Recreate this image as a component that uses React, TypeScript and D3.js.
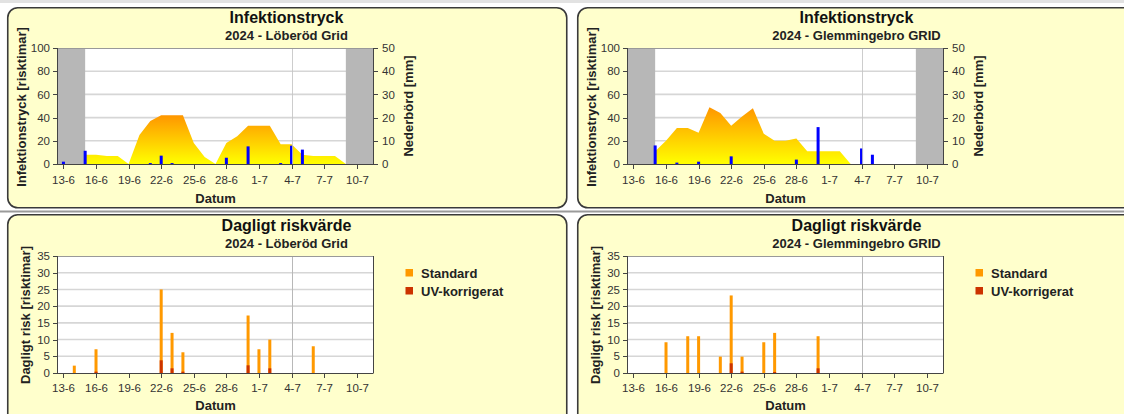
import React from "react";
import * as d3 from "d3";

const parse = d3.timeParse("%Y-%m-%d");

// X axis ticks
const tickDates = ["2024-06-13", "2024-06-16", "2024-06-19", "2024-06-22", "2024-06-25", "2024-06-28", "2024-07-01", "2024-07-04", "2024-07-07", "2024-07-10"];
const tickLabels = ["13-6", "16-6", "19-6", "22-6", "25-6", "28-6", "1-7", "4-7", "7-7", "10-7"];
const todayDate = "2024-07-04";
const seasonStart = "2024-06-15";
const seasonEnd = "2024-07-09";

// Infektionstryck – Löberöd
const lobAreaDates = ["2024-06-15", "2024-06-16", "2024-06-17", "2024-06-18", "2024-06-19", "2024-06-20", "2024-06-21", "2024-06-22", "2024-06-23", "2024-06-24", "2024-06-25", "2024-06-26", "2024-06-27", "2024-06-28", "2024-06-29", "2024-06-30", "2024-07-01", "2024-07-02", "2024-07-03", "2024-07-04", "2024-07-05", "2024-07-06", "2024-07-07", "2024-07-08", "2024-07-09"];
const lobAreaValues = [8, 8, 7, 7, 0, 25, 37, 42, 42, 42, 18, 6, 0, 18, 24, 33, 33, 33, 17, 17, 8, 7, 7, 7, 0];
const lobRainDates = ["2024-06-13", "2024-06-15", "2024-06-21", "2024-06-22", "2024-06-23", "2024-06-28", "2024-06-30", "2024-07-03", "2024-07-04", "2024-07-05"];
const lobRainValues = [1, 5.7, 0.4, 3.6, 0.4, 2.7, 7.6, 0.4, 7.9, 6.2];

// Infektionstryck – Glemmingebro
const glmAreaDates = ["2024-06-15", "2024-06-16", "2024-06-17", "2024-06-18", "2024-06-19", "2024-06-20", "2024-06-21", "2024-06-22", "2024-06-23", "2024-06-24", "2024-06-25", "2024-06-26", "2024-06-27", "2024-06-28", "2024-06-29", "2024-06-30", "2024-07-01", "2024-07-02", "2024-07-03"];
const glmAreaValues = [11, 20, 31, 31, 27, 49, 44, 33, 41, 48, 26, 20, 20, 22, 11, 11, 11, 11, 0];
const glmRainDates = ["2024-06-15", "2024-06-17", "2024-06-19", "2024-06-22", "2024-06-28", "2024-06-30", "2024-07-04", "2024-07-05"];
const glmRainValues = [8, 0.6, 1, 3.3, 1.9, 15.9, 6.7, 4];

// Dagligt riskvärde – Löberöd
const lobRiskDates = ["2024-06-14", "2024-06-16", "2024-06-22", "2024-06-23", "2024-06-24", "2024-06-30", "2024-07-01", "2024-07-02", "2024-07-06"];
const lobRiskStandard = [2.2, 7.1, 25, 12, 6.2, 17.2, 7.1, 10, 8];
const lobRiskUV = [0, 0.4, 3.8, 1.4, 0.4, 2.3, 0, 1.4, 0];

// Dagligt riskvärde – Glemmingebro
const glmRiskDates = ["2024-06-16", "2024-06-18", "2024-06-19", "2024-06-21", "2024-06-22", "2024-06-23", "2024-06-25", "2024-06-26", "2024-06-30"];
const glmRiskStandard = [9.2, 11, 11, 4.9, 23.2, 4.9, 9.2, 12, 11];
const glmRiskUV = [0, 0, 0, 0, 2.9, 0.4, 0, 0.3, 1.4];

const infTicks = [0, 20, 40, 60, 80, 100];
const rainTicks = [0, 10, 20, 30, 40, 50];
const riskTicks = [0, 5, 10, 15, 20, 25, 30, 35];

const FONT = "'Liberation Sans', Arial, sans-serif";
const PANEL_W = 559;
const PL = 51; // plot left offset within panel
const PW = 315;

const xDomain: [Date, Date] = [
  d3.timeHour.offset(parse(tickDates[0])!, -12),
  d3.timeHour.offset(parse(tickDates[tickDates.length - 1])!, 36),
];

function Panel({ x, y, h }: { x: number; y: number; h: number }) {
  return <rect x={x + 0.75} y={y + 0.75} width={PANEL_W} height={h} rx={10} fill="#ffffcc" stroke="#3a3a3a" strokeWidth={1.6} />;
}

function XAxis({ xs, top, bottom, dx, labelY, titleY }: any) {
  return (
    <g>
      {tickDates.map((d, i) => {
        const xx = Math.round(xs(parse(d)!)) + 0.5;
        return (
          <g key={d}>
            <line x1={xx} x2={xx} y1={bottom} y2={bottom + 5} stroke="#444" />
            <text x={xx} y={labelY} textAnchor="middle" fontSize={11.5} fill="#333" fontFamily={FONT}>{tickLabels[i]}</text>
          </g>
        );
      })}
      <text x={dx + PL + PW / 2} y={titleY} textAnchor="middle" fontSize={13} fontWeight="bold" fill="#222" fontFamily={FONT}>Datum</text>
    </g>
  );
}

function InfectionChart({ dx, subtitle, areaDates, areaValues, rainDates, rainValues, id }: any) {
  const top = 48, bottom = 164;
  const left = dx + 7 + PL, right = left + PW;
  const xs = d3.scaleTime().domain(xDomain).range([left, right]);
  const ys = d3.scaleLinear().domain([0, 100]).range([bottom, top]);
  const yr = d3.scaleLinear().domain([0, 50]).range([bottom, top]);
  const pts = areaDates.map((d: string, i: number) => [xs(parse(d)!), areaValues[i]] as [number, number]);
  const area = d3.area<[number, number]>().x((p) => p[0]).y0(bottom).y1((p) => ys(p[1]))(pts);
  const cx = dx + 7 + PANEL_W / 2;
  const todayX = Math.round(xs(parse(todayDate)!)) + 0.5;
  return (
    <g>
      <Panel x={dx + 7} y={7} h={200} />
      <text x={cx} y={23} textAnchor="middle" fontSize={16} fontWeight="bold" fill="#111" fontFamily={FONT}>Infektionstryck</text>
      <text x={cx} y={40} textAnchor="middle" fontSize={13} fontWeight="bold" fill="#222" fontFamily={FONT}>{subtitle}</text>
      <rect x={left} y={top} width={PW} height={bottom - top} fill="#fff" />
      {infTicks.slice(1, -1).map((t) => (
        <line key={t} x1={left} x2={right} y1={ys(t)} y2={ys(t)} stroke="#d6d6d6" strokeWidth={1.6} />
      ))}
      <rect x={left} y={top} width={xs(parse(seasonStart)!) - left} height={bottom - top} fill="#b7b7b7" />
      <rect x={xs(parse(seasonEnd)!)} y={top} width={right - xs(parse(seasonEnd)!)} height={bottom - top} fill="#b7b7b7" />
      <defs>
        <linearGradient id={id} x1="0" y1="0" x2="0" y2="1">
          <stop offset="0" stopColor="#ff9600" />
          <stop offset="1" stopColor="#ffff00" />
        </linearGradient>
      </defs>
      <path d={area!} fill={`url(#${id})`} />
      {rainDates.map((d: string, i: number) => (
        <rect key={d} x={xs(parse(d)!) - 1.5} y={yr(rainValues[i])} width={3} height={bottom - yr(rainValues[i])} fill="#0000ff" />
      ))}
      <line x1={todayX} x2={todayX} y1={top} y2={bottom} stroke="#c4c4c4" strokeOpacity={0.85} />
      <line x1={left} x2={right} y1={top + 0.5} y2={top + 0.5} stroke="#999" />
      <line x1={left - 0.5} x2={left - 0.5} y1={top} y2={bottom} stroke="#444" />
      <line x1={right + 0.5} x2={right + 0.5} y1={top} y2={bottom} stroke="#444" />
      <line x1={left - 0.5} x2={right + 0.5} y1={bottom + 0.5} y2={bottom + 0.5} stroke="#444" />
      {infTicks.map((t) => (
        <g key={t}>
          <line x1={left - 5} x2={left} y1={Math.round(ys(t)) + 0.5} y2={Math.round(ys(t)) + 0.5} stroke="#444" />
          <text x={left - 8} y={ys(t)} dy="0.36em" textAnchor="end" fontSize={11.5} fill="#333" fontFamily={FONT}>{t}</text>
        </g>
      ))}
      {rainTicks.map((t) => (
        <g key={t}>
          <line x1={right} x2={right + 5} y1={Math.round(yr(t)) + 0.5} y2={Math.round(yr(t)) + 0.5} stroke="#444" />
          <text x={right + 9} y={yr(t)} dy="0.36em" textAnchor="start" fontSize={11.5} fill="#333" fontFamily={FONT}>{t}</text>
        </g>
      ))}
      <text transform={`translate(${dx + 26},107) rotate(-90)`} textAnchor="middle" fontSize={13} fontWeight="bold" fill="#222" fontFamily={FONT}>Infektionstryck [risktimar]</text>
      <text transform={`translate(${dx + 412.5},106) rotate(-90)`} textAnchor="middle" fontSize={13} fontWeight="bold" fill="#222" fontFamily={FONT}>Nederbörd [mm]</text>
      <XAxis xs={xs} top={top} bottom={bottom} dx={dx + 7} labelY={184} titleY={203} />
    </g>
  );
}

function DailyChart({ dx, subtitle, dates, standard, uv }: any) {
  const top = 256, bottom = 373;
  const left = dx + 7 + PL, right = left + PW;
  const xs = d3.scaleTime().domain(xDomain).range([left, right]);
  const ys = d3.scaleLinear().domain([0, 35]).range([bottom, top]);
  const cx = dx + 7 + PANEL_W / 2;
  const todayX = Math.round(xs(parse(todayDate)!)) + 0.5;
  return (
    <g>
      <Panel x={dx + 7} y={214} h={230} />
      <text x={cx} y={231} textAnchor="middle" fontSize={16} fontWeight="bold" fill="#111" fontFamily={FONT}>Dagligt riskvärde</text>
      <text x={cx} y={248} textAnchor="middle" fontSize={13} fontWeight="bold" fill="#222" fontFamily={FONT}>{subtitle}</text>
      <rect x={left} y={top} width={PW} height={bottom - top} fill="#fff" />
      {riskTicks.slice(1, -1).map((t) => (
        <line key={t} x1={left} x2={right} y1={ys(t)} y2={ys(t)} stroke="#d6d6d6" strokeWidth={1.6} />
      ))}
      <line x1={todayX} x2={todayX} y1={top} y2={bottom} stroke="#b8b8b8" />
      {dates.map((d: string, i: number) => (
        <g key={d}>
          <rect x={xs(parse(d)!) - 1.5} y={ys(standard[i])} width={3} height={bottom - ys(standard[i])} fill="#ff9900" />
          {uv[i] > 0 && (
            <rect x={xs(parse(d)!) - 1.5} y={ys(uv[i])} width={3} height={bottom - ys(uv[i])} fill="#cc3300" />
          )}
        </g>
      ))}
      <line x1={left} x2={right} y1={top + 0.5} y2={top + 0.5} stroke="#999" />
      <line x1={left - 0.5} x2={left - 0.5} y1={top} y2={bottom} stroke="#444" />
      <line x1={right + 0.5} x2={right + 0.5} y1={top} y2={bottom} stroke="#444" />
      <line x1={left - 0.5} x2={right + 0.5} y1={bottom + 0.5} y2={bottom + 0.5} stroke="#444" />
      {riskTicks.map((t) => (
        <g key={t}>
          <line x1={left - 5} x2={left} y1={Math.round(ys(t)) + 0.5} y2={Math.round(ys(t)) + 0.5} stroke="#444" />
          <text x={left - 8} y={ys(t)} dy="0.36em" textAnchor="end" fontSize={11.5} fill="#333" fontFamily={FONT}>{t}</text>
        </g>
      ))}
      <text transform={`translate(${dx + 30},315) rotate(-90)`} textAnchor="middle" fontSize={13} fontWeight="bold" fill="#222" fontFamily={FONT}>Dagligt risk [risktimar]</text>
      <XAxis xs={xs} top={top} bottom={bottom} dx={dx + 7} labelY={391.5} titleY={410} />
      <rect x={dx + 405.5} y={269} width={7.5} height={7.5} fill="#ff9900" />
      <rect x={dx + 405.5} y={287} width={7.5} height={7.5} fill="#cc3300" />
      <text x={dx + 421} y={277.5} fontSize={13} fontWeight="bold" fill="#222" fontFamily={FONT}>Standard</text>
      <text x={dx + 421} y={295.5} fontSize={13} fontWeight="bold" fill="#222" fontFamily={FONT}>UV-korrigerat</text>
    </g>
  );
}

export default function App() {
  return (
    <svg width={1124} height={414} style={{ position: "absolute", left: 0, top: 0, background: "#fff" }}>
      <rect x={0} y={0} width={1124} height={3} fill="#e2e2e2" />
      <InfectionChart dx={0} id="gradA" subtitle="2024 - Löberöd Grid" areaDates={lobAreaDates} areaValues={lobAreaValues} rainDates={lobRainDates} rainValues={lobRainValues} />
      <InfectionChart dx={570} id="gradB" subtitle="2024 - Glemmingebro GRID" areaDates={glmAreaDates} areaValues={glmAreaValues} rainDates={glmRainDates} rainValues={glmRainValues} />
      <DailyChart dx={0} subtitle="2024 - Löberöd Grid" dates={lobRiskDates} standard={lobRiskStandard} uv={lobRiskUV} />
      <DailyChart dx={570} subtitle="2024 - Glemmingebro GRID" dates={glmRiskDates} standard={glmRiskStandard} uv={glmRiskUV} />
      <line x1={0} x2={1124} y1={211.5} y2={211.5} stroke="#9a9a9a" strokeWidth={2} />
    </svg>
  );
}
